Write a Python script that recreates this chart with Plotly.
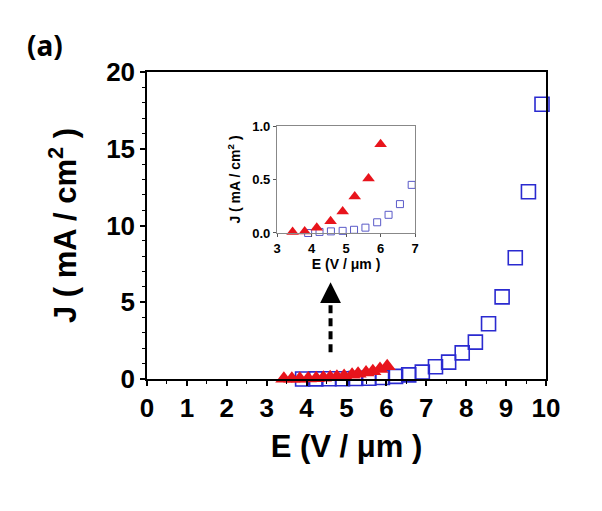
import plotly.graph_objects as go

# Blue squares (main + inset)
sq_x = [3.90, 4.23, 4.56, 4.90, 5.23, 5.56, 5.90, 6.23, 6.56, 6.90,
        7.23, 7.56, 7.90, 8.23, 8.56, 8.90, 9.23, 9.56, 9.90]
sq_y = [0.00, 0.01, 0.015, 0.02, 0.03, 0.05, 0.10, 0.17, 0.27, 0.45,
        0.80, 1.10, 1.70, 2.40, 3.60, 5.35, 7.90, 12.20, 17.90]

# Red triangles (main)
tri_x = [3.43, 3.63, 3.83, 4.04, 4.24, 4.42, 4.59, 4.76, 4.94, 5.14,
         5.29, 5.49, 5.66, 5.84, 6.02]
tri_y = [0.01, 0.012, 0.015, 0.03, 0.05, 0.08, 0.11, 0.15, 0.20, 0.27,
         0.34, 0.42, 0.51, 0.65, 0.83]

# Red triangles (inset)
tri_in_x = [3.45, 3.80, 4.15, 4.55, 4.90, 5.25, 5.65, 6.00]
tri_in_y = [0.01, 0.015, 0.05, 0.11, 0.20, 0.34, 0.51, 0.83]

x_ticks = [0, 1, 2, 3, 4, 5, 6, 7, 8, 9, 10]
y_ticks = [0, 5, 10, 15, 20]
in_x_ticks = [3, 4, 5, 6, 7]
in_y_ticks = [0.0, 0.5, 1.0]

RED = "#e8141c"
BLUE = "#2a2ad0"
BLUE_IN = "#5a5ac8"

fig = go.Figure()
fig.add_trace(go.Scatter(x=sq_x, y=sq_y, mode="markers",
                         marker=dict(symbol="square-open", size=14, color=BLUE,
                                     line=dict(width=1.6, color=BLUE)),
                         xaxis="x", yaxis="y", showlegend=False, cliponaxis=False))
fig.add_trace(go.Scatter(x=tri_x, y=tri_y, mode="markers",
                         marker=dict(symbol="triangle-up", size=15, color=RED),
                         xaxis="x", yaxis="y", showlegend=False, cliponaxis=False))
# inset
in_pts = [(x, y) for x, y in zip(sq_x, sq_y) if x <= 7]
fig.add_trace(go.Scatter(x=[p[0] for p in in_pts], y=[p[1] for p in in_pts], mode="markers",
                         marker=dict(symbol="square-open", size=7, color=BLUE_IN,
                                     line=dict(width=1, color=BLUE_IN)),
                         xaxis="x2", yaxis="y2", showlegend=False, cliponaxis=False))
fig.add_trace(go.Scatter(x=tri_in_x, y=tri_in_y, mode="markers",
                         marker=dict(symbol="triangle-up", size=11, color=RED),
                         xaxis="x2", yaxis="y2", showlegend=False, cliponaxis=False))

# dashed arrow
fig.add_shape(type="line", x0=4.6, x1=4.6, y0=1.75, y1=5.5, xref="x", yref="y",
              line=dict(color="black", width=4, dash="8px,5px"))
fig.add_annotation(x=4.6, y=6.3, ax=4.6, ay=5.4, xref="x", yref="y", axref="x", ayref="y",
                   showarrow=True, arrowhead=2, arrowsize=1.3, arrowwidth=3.2,
                   arrowcolor="black", text="")

# (a) label
fig.add_annotation(text="<b>(a)</b>", x=-0.2556, y=1.088, xref="paper", yref="paper",
                   xanchor="center", yanchor="middle", showarrow=False,
                   font=dict(family="Noto Sans", size=28, color="black"))

main_font = dict(family="Liberation Sans", size=26, color="black")
title_font = dict(family="Liberation Sans", size=31, color="black")
in_tick_font = dict(family="Liberation Sans", size=13, color="black")
in_title_font = dict(family="Liberation Sans", size=14, color="black")

fig.update_layout(
    width=602, height=511,
    margin=dict(l=139, r=64, t=64, b=140),
    paper_bgcolor="white", plot_bgcolor="white",
    font=dict(family="Liberation Sans", color="black"),
    xaxis=dict(range=[0, 10], domain=[0, 1], tickvals=x_ticks,
               ticktext=[f"<b>{v}</b>" for v in x_ticks],
               tickfont=main_font, ticks="outside", ticklen=5, tickwidth=1.5, tickcolor="black",
               minor=dict(dtick=0.5, ticks="outside", ticklen=3, tickcolor="black", tickwidth=1.2),
               showline=True, linecolor="black", linewidth=1.5, mirror=True,
               showgrid=False, zeroline=False,
               title=dict(text="<b>E (V / μm )</b>", font=title_font, standoff=13)),
    yaxis=dict(range=[0, 20], domain=[0, 1], tickvals=y_ticks,
               ticktext=[f"<b>{v}</b>" for v in y_ticks],
               tickfont=main_font, ticks="outside", ticklen=5, tickwidth=1.5, tickcolor="black",
               minor=dict(dtick=1, ticks="outside", ticklen=3, tickcolor="black", tickwidth=1.2),
               showline=True, linecolor="black", linewidth=1.5, mirror=True,
               showgrid=False, zeroline=False,
               title=dict(text="<b>J ( mA / cm<sup>2</sup> )</b>", font=title_font, standoff=20)),
    xaxis2=dict(range=[3, 7], domain=[0.326, 0.672], anchor="y2", tickvals=in_x_ticks,
                ticktext=[f"<b>{v}</b>" for v in in_x_ticks],
                tickfont=in_tick_font, ticks="outside", ticklen=3,
                tickcolor="#555", tickwidth=1,
                showline=True, linecolor="#888", linewidth=1.2, mirror=True,
                showgrid=False, zeroline=False,
                title=dict(text="<b>E (V / μm )</b>", font=in_title_font, standoff=2)),
    yaxis2=dict(range=[0, 1.0], domain=[0.4756, 0.824], anchor="x2", tickvals=in_y_ticks,
                ticktext=["<b>0.0</b>", "<b>0.5</b>", "<b>1.0</b>"],
                tickfont=in_tick_font, ticks="outside", ticklen=3,
                tickcolor="#555", tickwidth=1,
                showline=True, linecolor="#888", linewidth=1.2, mirror=True,
                showgrid=False, zeroline=False,
                title=dict(text="<b>J ( mA / cm<sup>2</sup> )</b>", font=in_title_font, standoff=8)),
)

fig.write_html("out.html")
